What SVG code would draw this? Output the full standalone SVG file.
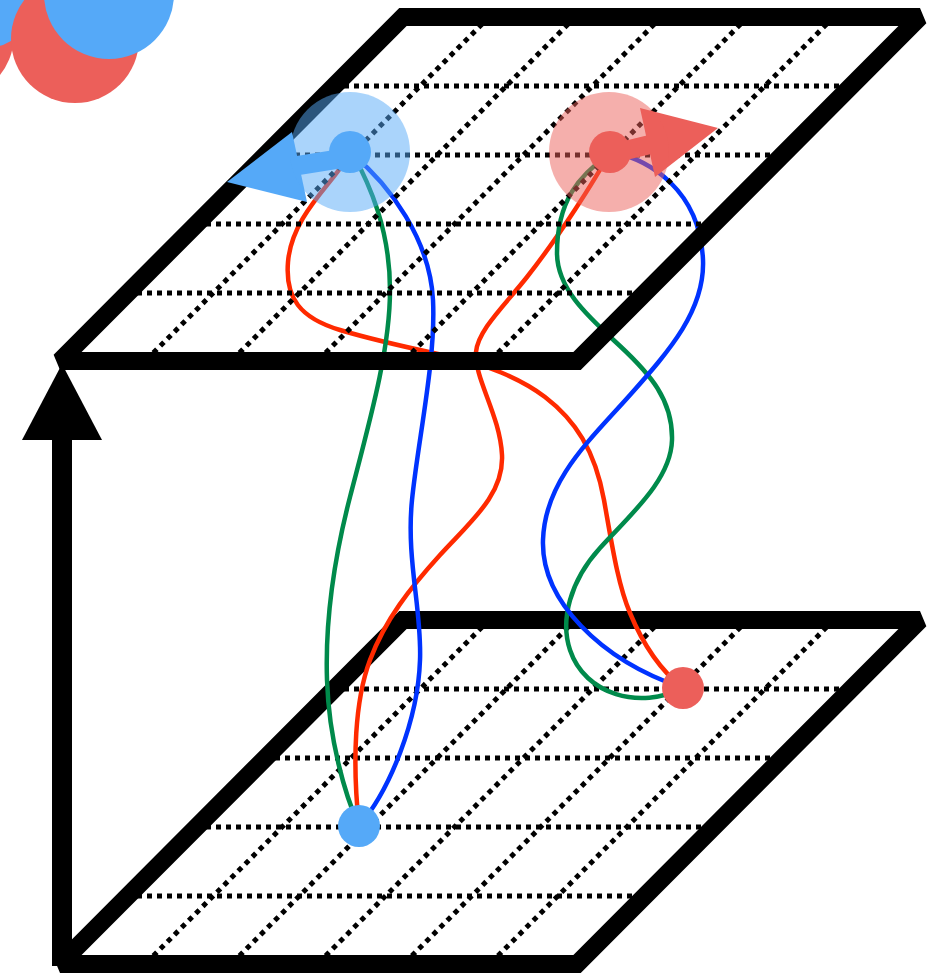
<svg xmlns="http://www.w3.org/2000/svg" width="947" height="974" viewBox="0 0 947 974">
<style>
.frame{fill:none;stroke:#000;stroke-width:18;stroke-linejoin:miter;stroke-miterlimit:2}
.grid{fill:none;stroke:#000;stroke-width:5;stroke-dasharray:5 5}
.cv{fill:none;stroke-width:4.5;stroke-linecap:round}
.r{stroke:#ff2a00}.g{stroke:#008a4b}.b{stroke:#0033ff}
.nb{fill:#55a9f8}.nr{fill:#ec5f5a}
</style>
<g id="decor">
<circle cx="-50" cy="35" r="64" class="nr"/>
<circle cx="-20" cy="-15" r="64" class="nb"/>
<circle cx="75" cy="39" r="64" class="nr"/>
<circle cx="109" cy="-6" r="65" class="nb"/>
</g>
<g id="plane-bottom">
<g class="grid">
<line x1="334" y1="689" x2="851" y2="689"/>
<line x1="265" y1="758" x2="782" y2="758"/>
<line x1="196" y1="827" x2="713" y2="827"/>
<line x1="127" y1="896" x2="644" y2="896"/>
<line x1="489.2" y1="620" x2="145.2" y2="964"/>
<line x1="575.3" y1="620" x2="231.3" y2="964"/>
<line x1="661.5" y1="620" x2="317.5" y2="964"/>
<line x1="747.7" y1="620" x2="403.7" y2="964"/>
<line x1="833.8" y1="620" x2="489.8" y2="964"/>
</g>
<polygon class="frame" points="403,620 920,620 577,964 60,964"/>
</g>
<g id="axis-arrow">
<line x1="62" y1="966" x2="62" y2="430" stroke="#000" stroke-width="20"/>
<polygon points="62,364 22,440 102,440" fill="#000"/>
</g>
<g id="connectors">
<path class="cv r" d="M350,152 C340,178 292,212 288,262 C285,298 300,318 340,330 C380,342 420,350 452,357 C484,364 520,378 545,397 C575,420 595,450 604,500 C612,545 618,585 630,613 C642,642 660,670 683,688"/>
<path class="cv r" d="M610,152 C595,180 560,235 527,277 C505,305 478,330 476,352 C474,378 500,415 502,455 C504,495 470,522 440,555 C410,588 385,620 370,660 C355,700 352,760 359,826"/>
<path class="cv g" d="M352,152 C370,185 390,230 390,290 C390,350 370,420 350,497 C335,555 325,620 327,680 C329,740 345,795 359,826"/>
<path class="cv b" d="M352,154 C390,185 430,240 433,300 C436,360 418,440 412,500 C406,560 422,610 420,660 C418,720 390,790 359,826"/>
<path class="cv g" d="M608,155 C580,175 557,200 557,253 C557,290 590,318 620,346 C650,374 673,400 672,440 C671,480 630,515 600,548 C570,581 560,620 570,650 C585,695 640,710 683,688"/>
<path class="cv b" d="M612,152 C650,160 700,190 703,260 C705,310 670,350 630,395 C590,440 545,480 543,540 C541,600 600,660 683,688"/>
</g>
<g id="plane-top">
<g class="grid">
<line x1="334" y1="86" x2="851" y2="86"/>
<line x1="265" y1="155" x2="782" y2="155"/>
<line x1="196" y1="224" x2="713" y2="224"/>
<line x1="127" y1="293" x2="644" y2="293"/>
<line x1="489.2" y1="17" x2="145.2" y2="361"/>
<line x1="575.3" y1="17" x2="231.3" y2="361"/>
<line x1="661.5" y1="17" x2="317.5" y2="361"/>
<line x1="747.7" y1="17" x2="403.7" y2="361"/>
<line x1="833.8" y1="17" x2="489.8" y2="361"/>
</g>
<polygon class="frame" points="403,17 920,17 577,361 60,361"/>
</g>
<g id="node-top-blue">
<line x1="345" y1="158" x2="295" y2="166" stroke="#55a9f8" stroke-width="19"/>
<polygon class="nb" points="227,182 292,132 307,202"/>
<circle class="nb" cx="350" cy="152" r="21"/>
<circle class="nb" cx="350" cy="152" r="60" opacity="0.5"/>
</g>
<g id="node-top-red">
<line x1="615" y1="153" x2="652" y2="144" stroke="#ec5f5a" stroke-width="19"/>
<polygon class="nr" points="718,128 640,108 655,177"/>
<circle class="nr" cx="610" cy="152" r="21"/>
<circle class="nr" cx="609" cy="152" r="60" opacity="0.5"/>
</g>
<g id="node-bottom-blue">
<circle class="nb" cx="359" cy="826" r="21"/>
</g>
<g id="node-bottom-red">
<circle class="nr" cx="683" cy="688" r="21"/>
</g>
</svg>
